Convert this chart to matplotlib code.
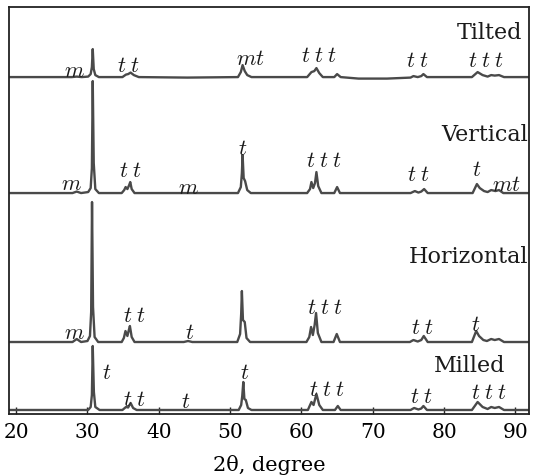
import matplotlib
matplotlib.use("Agg")
import matplotlib.pyplot as plt

plt.rcParams['mathtext.fontset'] = 'cm'

# ---- data (2theta in degrees, intensity above each trace's baseline, arb. units) ----
tilted_x = [19.0, 27.8, 28.5, 29.2, 30.1, 30.45, 30.62, 30.74, 30.88, 31.1, 31.6,
            34.9, 35.4, 35.7, 36.05, 36.5, 37.2,
            44.0, 51.1, 51.5, 51.75, 52.05, 52.4, 53.0,
            60.8, 61.4, 61.8, 62.1, 62.5, 63.0, 64.6, 65.0, 65.5,
            68.0, 72.0, 75.3, 75.7, 76.3, 76.8, 77.1, 77.6,
            83.9, 84.7, 85.4, 86.1, 86.6, 87.1, 87.7, 88.4, 91.9]
tilted_y = [0, 0, 0.5, 0, 0.5, 3, 10, 28, 8, 2, 0,
            0, 2.5, 3, 4.5, 2, 0,
            -0.5, 0, 5, 12, 6, 2, 0,
            0, 5, 6, 9, 4, 0, 0, 3, 0,
            -1.5, -1.5, -0.5, 1, 0, 1, 3, 0,
            0, 5, 2, 0.5, 2, 1.5, 2, 0, 0]

vertical_x = [19.0, 27.9, 28.5, 29.1, 30.1, 30.45, 30.62, 30.74, 30.88, 31.1, 31.6,
              34.8, 35.15, 35.35, 35.6, 35.85, 36.0, 36.2, 36.6,
              44.0, 51.1, 51.5, 51.65, 51.75, 51.9, 52.1, 52.4, 52.9,
              60.8, 61.2, 61.4, 61.65, 61.9, 62.1, 62.35, 62.8, 64.6, 65.0, 65.4,
              75.3, 75.9, 76.4, 76.8, 77.2, 77.7,
              84.0, 84.6, 85.0, 85.6, 86.1, 86.6, 87.2, 87.7, 88.3, 91.9]
vertical_y = [0, 0, 1.5, 0, 1, 5, 25, 112, 30, 4, 0,
              0, 3, 6, 4, 8, 11, 4, 0,
              0, 0, 6, 20, 38, 15, 12, 3, 0,
              0, 4, 11, 5, 10, 21, 7, 0, 0, 6, 0,
              0, 2, 0.5, 1.5, 4, 0,
              0, 9, 5, 2, 1, 3, 2, 3, 0, 0]

horizontal_x = [19.0, 27.9, 28.5, 29.1, 30.0, 30.35, 30.52, 30.64, 30.78, 31.0, 31.5,
                34.8, 35.1, 35.33, 35.6, 35.8, 35.95, 36.2, 36.6,
                43.5, 44.1, 44.7, 51.0, 51.4, 51.55, 51.65, 51.8, 52.05, 52.3, 52.8,
                60.7, 61.1, 61.35, 61.6, 61.85, 62.05, 62.3, 62.8, 64.5, 64.95, 65.4,
                75.2, 75.7, 76.3, 76.8, 77.15, 77.7,
                83.9, 84.5, 84.9, 85.5, 86.0, 86.6, 87.1, 87.7, 88.4, 91.9]
horizontal_y = [0, 0, 3, 0, 1, 6, 30, 140, 35, 5, 0,
                0, 4, 11, 6, 12, 16, 5, 0,
                0, 1, 0, 0, 8, 28, 51, 22, 20, 4, 0,
                0, 5, 15, 7, 17, 29, 9, 0, 0, 8, 0,
                0, 2, 0.5, 2, 6, 0,
                0, 11, 6, 2, 1, 3, 2, 3, 0, 0]

milled_x = [19.0, 30.1, 30.45, 30.62, 30.74, 30.9, 31.1, 31.7,
            34.9, 35.4, 35.7, 36.05, 36.4, 36.9,
            51.2, 51.55, 51.7, 51.85, 52.0, 52.2, 52.5, 53.0,
            60.9, 61.4, 61.7, 62.1, 62.5, 63.0, 64.7, 65.1, 65.5,
            75.3, 75.8, 76.4, 76.8, 77.1, 77.6,
            83.9, 84.7, 85.4, 86.1, 86.6, 87.1, 87.7, 88.4, 91.9]
milled_y = [0, 0, 3, 15, 64, 18, 3, 0,
            0, 3, 2.5, 7, 2, 0,
            0, 5, 14, 28, 11, 10, 2, 0,
            0, 8, 5, 16, 5, 0, 0, 4, 0,
            0, 2, 0.5, 1.5, 4, 0,
            0, 8, 3, 1, 3, 2, 3, 0, 0]

series_names = ["Tilted", "Vertical", "Horizontal", "Milled"]
series_x = [tilted_x, vertical_x, horizontal_x, milled_x]
series_y = [tilted_y, vertical_y, horizontal_y, milled_y]
offsets = [337, 221, 72, 4]

# phase labels: (text, 2theta, height)
phase_labels = [
    ("m", 28.22, 344), ("t t", 35.79, 349), ("mt", 52.91, 356), ("t t t", 62.45, 359),
    ("t t", 76.21, 354), ("t t t", 85.89, 354),
    ("m", 27.81, 231), ("t t", 36.07, 244), ("m", 44.21, 227), ("t", 51.79, 266),
    ("t t t", 63.16, 254), ("t t", 76.35, 240), ("t", 84.62, 245), ("mt", 88.69, 230),
    ("m", 28.22, 82), ("t t", 36.64, 99), ("t", 44.35, 82), ("t t t", 63.30, 107),
    ("t t", 76.91, 87), ("t", 84.48, 90),
    ("t", 32.71, 42), ("t t", 36.64, 15), ("t", 43.79, 13), ("t", 52.07, 42),
    ("t t t", 63.58, 25), ("t t", 76.77, 18), ("t t t", 86.31, 22),
]
name_pos = [(90.94, 382), (91.78, 280), (91.78, 158), (88.55, 49)]

xticks = [20, 30, 40, 50, 60, 70, 80, 90]
xlabel = "2θ, degree"

# ---- plot ----
fig = plt.figure(figsize=(5.39, 4.77), dpi=100)
ax = fig.add_axes([0.0167, 0.130, 0.9647, 0.853])

for xs, ys, off in zip(series_x, series_y, offsets):
    ax.plot(xs, [v + off for v in ys], color="#4a4a4a", lw=1.7, solid_joinstyle="round")

for txt, x, y in phase_labels:
    s = "$" + txt.replace(" ", r"\;") + "$"
    ax.text(x, y, s, ha="center", va="center", fontsize=16, color="#1a1a1a")

for name, (x, y) in zip(series_names, name_pos):
    ax.text(x, y, name, ha="right", va="center", fontsize=16,
            family="DejaVu Serif", color="#1a1a1a")

ax.set_xlim(19.0, 91.9)
ax.set_ylim(0, 407)
ax.set_xticks(xticks)
ax.set_xticklabels([str(t) for t in xticks], family="DejaVu Serif", fontsize=14.5)
ax.set_yticks([])
ax.tick_params(axis="x", direction="in", length=5, width=1, pad=6, color="#222222")
for sp in ax.spines.values():
    sp.set_linewidth(1.3)
    sp.set_color("#222222")
ax.set_xlabel(xlabel, family="DejaVu Serif", fontsize=15, labelpad=9)

fig.savefig("out.png", dpi=100)
